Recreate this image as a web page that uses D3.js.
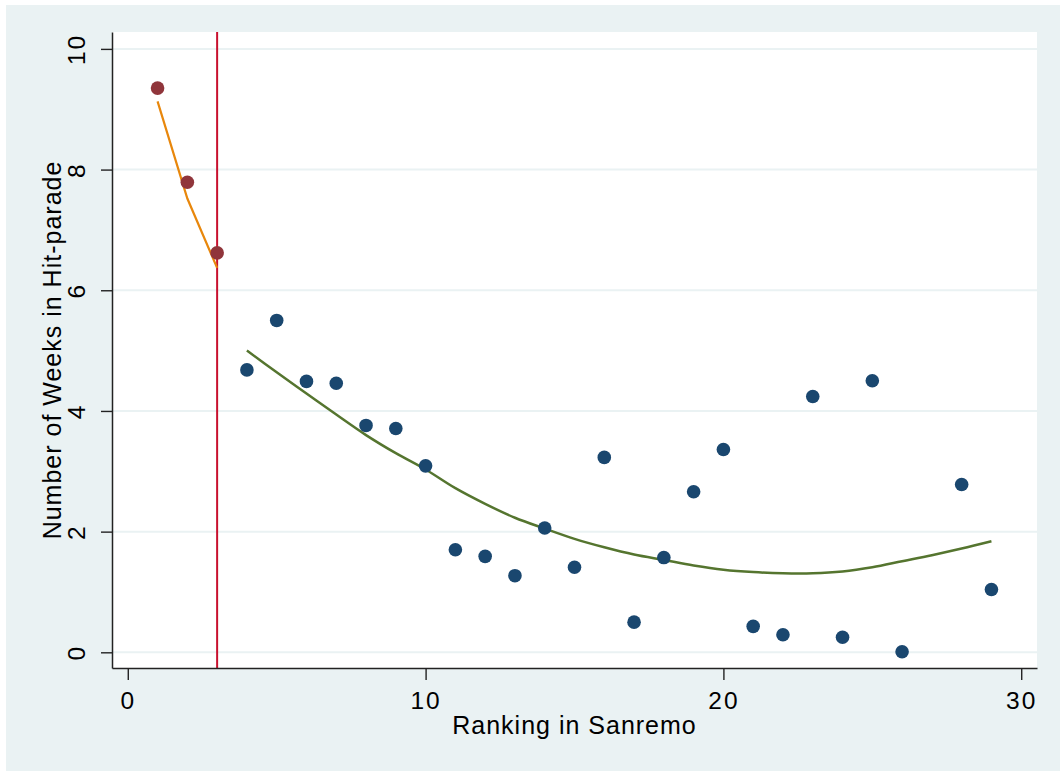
<!DOCTYPE html>
<html>
<head>
<meta charset="utf-8">
<script src="https://cdn.jsdelivr.net/npm/d3@7"></script>
<style>
  html, body { margin: 0; padding: 0; background: #ffffff; }
  svg { display: block; font-family: "Liberation Sans", Arial, sans-serif; }
</style>
</head>
<body>
<div id="chart"></div>
<script>
// top three finishers (drawn in red)
const topRanks = [1, 2, 3];
const topWeeks = [9.35, 7.79, 6.62];

// everybody else
const restRanks = [4, 5, 6, 7, 8, 9, 10, 11, 12, 13, 14, 15, 16, 17, 18, 19, 20, 21, 22, 23, 24, 25, 26, 28, 29];
const restWeeks = [4.68, 5.50, 4.49, 4.46, 3.76, 3.71, 3.09, 1.70, 1.59, 1.27, 2.06, 1.41, 3.23, 0.50, 1.57, 2.66, 3.36, 0.43, 0.29, 4.24, 0.25, 4.50, 0.01, 2.78, 1.04];

// fitted curves
const topFitX = [1, 2, 3];
const topFitY = [9.13, 7.52, 6.37];
const restFitX = [4, 5, 6, 7, 8, 9, 10, 11, 12, 13, 14, 15, 16, 17, 18, 19, 20, 21, 22, 23, 24, 25, 26, 27, 28, 29];
const restFitY = [5.00, 4.64, 4.29, 3.94, 3.60, 3.30, 3.03, 2.72, 2.46, 2.23, 2.05, 1.88, 1.74, 1.62, 1.53, 1.44, 1.37, 1.33, 1.31, 1.31, 1.34, 1.41, 1.51, 1.61, 1.72, 1.84];

const cutoff = 3;
const xTicks = [0, 10, 20, 30];
const yTicks = [0, 2, 4, 6, 8, 10];
const xTitle = 'Ranking in Sanremo';
const yTitle = 'Number of Weeks in Hit-parade';

const width = 1060, height = 771;
const plot = { left: 112, right: 1037, top: 32, bottom: 668 };
const bg = '#eaf2f3';

const svg = d3.select('#chart').append('svg')
  .attr('width', width)
  .attr('height', height);

svg.append('rect')
  .attr('x', 6).attr('y', 5)
  .attr('width', width - 6).attr('height', height - 5)
  .attr('fill', bg);

svg.append('rect')
  .attr('x', plot.left).attr('y', plot.top)
  .attr('width', plot.right - plot.left).attr('height', plot.bottom - plot.top)
  .attr('fill', '#ffffff');

const x = d3.scaleLinear().domain([-0.53, 30.53]).range([plot.left, plot.right]);
const y = d3.scaleLinear().domain([-0.26, 10.28]).range([plot.bottom, plot.top]);

// grid
svg.append('g').selectAll('line')
  .data(yTicks)
  .join('line')
  .attr('x1', plot.left).attr('x2', plot.right)
  .attr('y1', d => y(d)).attr('y2', d => y(d))
  .attr('stroke', bg)
  .attr('stroke-width', 2);

// cutoff line
svg.append('line')
  .attr('x1', x(cutoff)).attr('x2', x(cutoff))
  .attr('y1', plot.top).attr('y2', plot.bottom)
  .attr('stroke', '#c8102e')
  .attr('stroke-width', 2);

const line = d3.line().x(d => x(d[0])).y(d => y(d[1]));

svg.append('path')
  .datum(d3.zip(restFitX, restFitY))
  .attr('d', line.curve(d3.curveCatmullRom))
  .attr('fill', 'none')
  .attr('stroke', '#55752f')
  .attr('stroke-width', 2.5);

svg.append('path')
  .datum(d3.zip(topFitX, topFitY))
  .attr('d', line.curve(d3.curveLinear))
  .attr('fill', 'none')
  .attr('stroke', '#e8870c')
  .attr('stroke-width', 2.2);

svg.append('g').selectAll('circle')
  .data(d3.zip(restRanks, restWeeks))
  .join('circle')
  .attr('cx', d => x(d[0]))
  .attr('cy', d => y(d[1]))
  .attr('r', 6.8)
  .attr('fill', '#1a476f');

svg.append('g').selectAll('circle')
  .data(d3.zip(topRanks, topWeeks))
  .join('circle')
  .attr('cx', d => x(d[0]))
  .attr('cy', d => y(d[1]))
  .attr('r', 6.8)
  .attr('fill', '#90353b');

// axes
const yAxis = svg.append('g')
  .attr('transform', `translate(${plot.left},0)`)
  .call(d3.axisLeft(y).tickValues(yTicks).tickSize(11).tickSizeOuter(0));

yAxis.selectAll('text')
  .attr('x', 0).attr('dy', 0)
  .attr('text-anchor', 'middle')
  .attr('transform', 'translate(-27,0) rotate(-90)')
  .style('letter-spacing', '2px');

const xAxis = svg.append('g')
  .attr('transform', `translate(0,${plot.bottom})`)
  .call(d3.axisBottom(x).tickValues(xTicks).tickSize(12).tickSizeOuter(0));

xAxis.selectAll('text')
  .attr('y', 41).attr('dy', 0)
  .style('letter-spacing', '2px');

svg.selectAll('.tick text')
  .attr('fill', '#000')
  .style('font-size', '24.5px')
  .style('font-family', '"Liberation Sans", Arial, sans-serif');
svg.selectAll('.tick line').attr('stroke', '#222').attr('stroke-width', 1.4);
svg.selectAll('.domain').attr('stroke', '#222').attr('stroke-width', 1.5);

svg.append('text')
  .attr('x', (plot.left + plot.right) / 2)
  .attr('y', 734)
  .attr('text-anchor', 'middle')
  .style('font-size', '25px')
  .style('letter-spacing', '1px')
  .text(xTitle);

svg.append('text')
  .attr('transform', `translate(61,${(plot.top + plot.bottom) / 2}) rotate(-90)`)
  .attr('text-anchor', 'middle')
  .style('font-size', '25px')
  .style('letter-spacing', '1px')
  .text(yTitle);
</script>
</body>
</html>
